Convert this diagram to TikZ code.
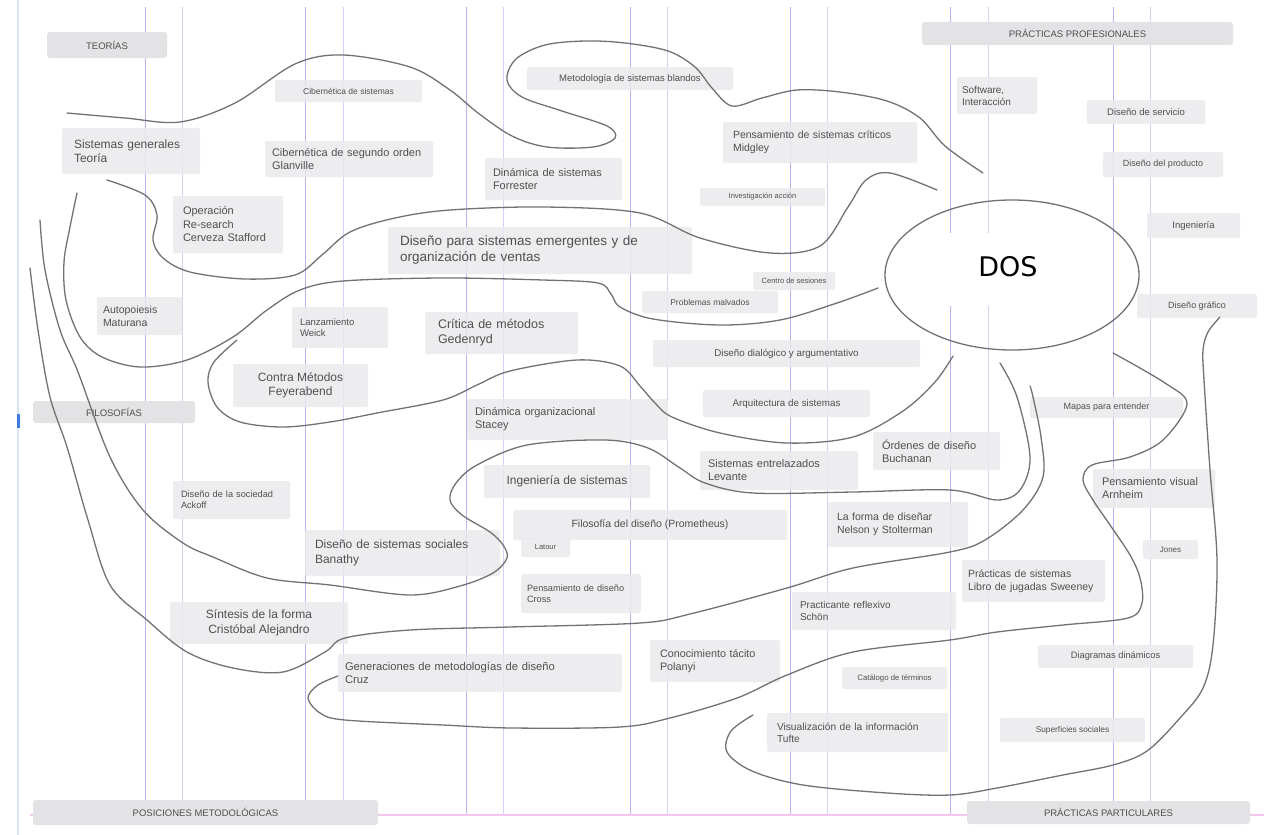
\documentclass[tikz,border=0pt]{standalone}
\usepackage{fontspec}
\setmainfont{Liberation Sans}
\newfontfamily\dosfont{DejaVu Sans}
\usetikzlibrary{shapes.geometric}

\definecolor{boxgray}{HTML}{EBEBED}
\definecolor{headgray}{HTML}{E3E3E6}
\definecolor{txtgray}{HTML}{505050}
\definecolor{curvegray}{HTML}{727272}
\definecolor{vlA}{HTML}{C2AEF4}
\definecolor{vlB}{HTML}{D6D0F7}
\definecolor{pinkline}{HTML}{F4C8EE}
\definecolor{edgeblue}{HTML}{D6E6F8}
\definecolor{markblue}{HTML}{3D7FE0}

\newcommand{\fz}[2]{\fontsize{#1}{#2}\selectfont}

\begin{document}
\begin{tikzpicture}[x=1pt, y=-1pt]
  \tikzstyle{box}=[fill=boxgray, fill opacity=0.85, text opacity=1, rounded corners=2pt, inner xsep=0pt, inner ysep=0pt, text=txtgray]
  \tikzstyle{lbox}=[box, align=left]
  \tikzstyle{cbox}=[box, align=center]
  \tikzstyle{head}=[fill=headgray, rounded corners=3pt, inner sep=0pt, text=txtgray, font=\fz{9.5}{11}]
  \tikzstyle{curve}=[draw=curvegray, line width=1.3pt, line cap=round, line join=round]
  \tikzstyle{grid}=[line width=1pt]

  \useasboundingbox (0,0) rectangle (1264,835);
  \fill[white] (0,0) rectangle (1264,835);

  % columns
  \foreach \x/\c in {145/vlA, 182/vlB, 305/vlA, 343/vlB, 466/vlA, 503/vlB, 630/vlA,
                     667/vlB, 790/vlA, 827/vlB, 950/vlA, 988/vlB, 1113/vlA, 1150/vlB}
    \draw[grid, \c] (\x,7) -- (\x,815);
  \draw[pinkline, line width=1.5pt] (30,815) -- (1264,815);
  \draw[edgeblue, line width=1.5pt] (18,0) -- (18,835);
  \fill[markblue] (16.5,414) rectangle (19.5,428);

  % headers
  \node[head, minimum width=120pt, minimum height=26pt] (teorias) at (107,45) {TEORÍAS};
  \node[head, minimum width=311pt, minimum height=23pt] (profesionales) at (1077.5,33.5) {PRÁCTICAS PROFESIONALES};
  \node[head, minimum width=162pt, minimum height=22pt] (filosofias) at (114,412) {FILOSOFÍAS};
  \node[head, minimum width=345pt, minimum height=25pt] (posiciones) at (205.5,812.5) {POSICIONES METODOLÓGICAS};
  \node[head, minimum width=283pt, minimum height=23pt] (particulares) at (1108.5,812.5) {PRÁCTICAS PARTICULARES};

  % teorias
  \node[cbox, minimum width=147pt, minimum height=22pt, font=\fz{8.5}{10}] (cib) at (348.5,91) {Cibernética de sistemas};
  \node[cbox, minimum width=206pt, minimum height=23pt, font=\fz{9.5}{11}] (msb) at (630,78.5) {Metodología de sistemas blandos};
  \node[lbox, minimum width=138pt, minimum height=46pt, text width=114pt, font=\fz{12}{14.5}] (sgt) at (131,151) {Sistemas generales\\Teoría};
  \node[lbox, minimum width=168pt, minimum height=36pt, text width=154pt, font=\fz{11}{13}] (c2o) at (349,159) {Cibernética de segundo orden\\Glanville};
  \node[lbox, minimum width=110pt, minimum height=57pt, text width=90pt, font=\fz{11}{13.5}] (opr) at (228,224.5) {Operación\\Re-search\\Cerveza Stafford};
  \node[lbox, minimum width=137pt, minimum height=42pt, text width=121pt, font=\fz{11}{13}] (dsf) at (553.5,179) {Dinámica de sistemas\\Forrester};
  \node[lbox, minimum width=194pt, minimum height=41pt, text width=174pt, font=\fz{10.5}{13}] (psc) at (820,142.5) {Pensamiento de sistemas críticos\\Midgley};
  \node[cbox, minimum width=125pt, minimum height=18pt, font=\fz{7.5}{9}] (ia) at (762.5,197) {Investigación acción};
  \node[lbox, minimum width=304pt, minimum height=47pt, text width=280pt, font=\fz{13.5}{16}] (dse) at (540,250.5) {Diseño para sistemas emergentes y de\\organización de ventas};
  \node[cbox, minimum width=82pt, minimum height=18pt, font=\fz{7.5}{9}] (cs) at (794,281) {Centro de sesiones};
  \node[cbox, minimum width=136pt, minimum height=22pt, font=\fz{8.5}{10}] (pm) at (710,302) {Problemas malvados};

  % practicas profesionales
  \node[lbox, minimum width=80pt, minimum height=37pt, text width=70pt, font=\fz{10}{12}] (sw) at (997,95.5) {Software,\\Interacción};
  \node[cbox, minimum width=118pt, minimum height=24pt, font=\fz{9.5}{11}] (dser) at (1146,112) {Diseño de servicio};
  \node[cbox, minimum width=120pt, minimum height=25pt, font=\fz{9}{11}] (dprod) at (1163,164.5) {Diseño del producto};
  \node[cbox, minimum width=93pt, minimum height=25pt, font=\fz{9.5}{11}] (ing) at (1193.5,225.5) {Ingeniería};
  \node[cbox, minimum width=120pt, minimum height=24pt, font=\fz{9}{11}] (dgraf) at (1197,306) {Diseño gráfico};

  % filosofias
  \node[lbox, minimum width=85pt, minimum height=38pt, text width=73pt, font=\fz{10.5}{12.5}] (aut) at (139.5,316) {Autopoiesis\\Maturana};
  \node[lbox, minimum width=96pt, minimum height=41pt, text width=80pt, font=\fz{9.5}{11.5}] (lan) at (340,327.5) {Lanzamiento\\Weick};
  \node[lbox, minimum width=153pt, minimum height=42pt, text width=127pt, font=\fz{12.5}{15}] (cri) at (501.5,333) {Crítica de métodos\\Gedenryd};
  \node[cbox, minimum width=135pt, minimum height=43pt, font=\fz{12}{14.5}] (cm) at (300.5,385.5) {Contra Métodos\\Feyerabend};
  \node[cbox, minimum width=267pt, minimum height=27pt, font=\fz{9.8}{11.5}] (ddia) at (786.5,353.5) {Diseño dialógico y argumentativo};
  \node[cbox, minimum width=167pt, minimum height=27pt, font=\fz{9.8}{11.5}] (arq) at (786.5,403.5) {Arquitectura de sistemas};
  \node[lbox, minimum width=201pt, minimum height=41pt, text width=185pt, font=\fz{11}{13}] (dorg) at (567.5,419.5) {Dinámica organizacional\\Stacey};
  \node[cbox, minimum width=153pt, minimum height=21pt, font=\fz{9}{11}] (mapas) at (1106.5,407.5) {Mapas para entender};
  \node[lbox, minimum width=127pt, minimum height=38pt, text width=109pt, font=\fz{11}{13}] (ord) at (936.5,451) {Órdenes de diseño\\Buchanan};
  \node[lbox, minimum width=158pt, minimum height=39pt, text width=142pt, font=\fz{11}{13}] (sent) at (779,470.5) {Sistemas entrelazados\\Levante};
  \node[cbox, minimum width=166pt, minimum height=33pt, font=\fz{12}{14}] (isis) at (567,481.5) {Ingeniería de sistemas};
  \node[lbox, minimum width=117pt, minimum height=38pt, text width=101pt, font=\fz{9.2}{11}] (dsoc) at (231.5,500) {Diseño de la sociedad\\Ackoff};
  \node[lbox, minimum width=122pt, minimum height=39pt, text width=104pt, font=\fz{11}{13}] (pv) at (1154,488.5) {Pensamiento visual\\Arnheim};
  \node[cbox, minimum width=274pt, minimum height=30pt, font=\fz{10.5}{12}] (fil) at (650,525) {Filosofía del diseño (Prometheus)};
  \node[lbox, minimum width=140pt, minimum height=45pt, text width=122pt, font=\fz{10.5}{12.5}] (fdis) at (898,524.5) {La forma de diseñar\\Nelson y Stolterman};
  \node[cbox, minimum width=49pt, minimum height=20pt, font=\fz{7.5}{9}] (lat) at (545.5,547) {Latour};
  \node[lbox, minimum width=195pt, minimum height=46pt, text width=175pt, font=\fz{12}{14.5}] (dss) at (402.5,553) {Diseño de sistemas sociales\\Banathy};
  \node[cbox, minimum width=55pt, minimum height=19pt, font=\fz{8}{9.5}] (jon) at (1170.5,549.5) {Jones};

  % posiciones y practicas particulares
  \node[lbox, minimum width=120pt, minimum height=39pt, text width=108pt, font=\fz{9.2}{11.5}] (pdis) at (581,593.5) {Pensamiento de diseño\\Cross};
  \node[lbox, minimum width=143pt, minimum height=42pt, text width=131pt, font=\fz{10.5}{12.5}] (prs) at (1033.5,581) {Prácticas de sistemas\\Libro de jugadas Sweeney};
  \node[cbox, minimum width=178pt, minimum height=42pt, font=\fz{12}{14.5}] (sint) at (259,623) {Síntesis de la forma\\Cristóbal Alejandro};
  \node[lbox, minimum width=164pt, minimum height=38pt, text width=148pt, font=\fz{10}{12}] (prr) at (874,611) {Practicante reflexivo\\Schön};
  \node[lbox, minimum width=130pt, minimum height=42pt, text width=110pt, font=\fz{10.8}{13}] (cti) at (715,661) {Conocimiento tácito\\Polanyi};
  \node[lbox, minimum width=284pt, minimum height=38pt, text width=270pt, font=\fz{11.2}{13}] (gen) at (480,673) {Generaciones de metodologías de diseño\\Cruz};
  \node[cbox, minimum width=155pt, minimum height=23pt, font=\fz{9.3}{11}] (ddin) at (1115.5,656.5) {Diagramas dinámicos};
  \node[cbox, minimum width=105pt, minimum height=22pt, font=\fz{7.8}{9}] (cat) at (894.5,678) {Catálogo de términos};
  \node[lbox, minimum width=181pt, minimum height=39pt, text width=161pt, font=\fz{10.2}{12}] (vis) at (857.5,732.5) {Visualización de la información\\Tufte};
  \node[cbox, minimum width=145pt, minimum height=24pt, font=\fz{8.3}{10}] (sup) at (1072.5,730) {Superficies sociales};

  % DOS
  \node[ellipse, curve, minimum width=254pt, minimum height=150pt] (dosring) at (1012,275) {};
  \node[fill=white, minimum width=167pt, minimum height=73pt] (dosbox) at (1018.5,269) {};
  \node[font=\dosfont\fz{27}{30}, text=black, inner sep=0pt] (dos) at (1008,267) {DOS};

  % freehand groupings
  \draw[curve] plot[smooth, tension=0.55] coordinates {(67,113) (125,118) (180,122) (235,103) (295,64) (343,55) (410,67) (450,90) (478,113) (512,136) (547,147) (593,147) (615,138) (607,126) (562,111) (522,97) (507,80) (516,59) (545,45) (585,41) (625,43) (668,51) (695,67) (712,88) (732,106) (762,98) (797,90) (840,92) (887,101) (920,118) (945,146) (983,173)};
  \draw[curve] plot[smooth, tension=0.55] coordinates {(107,180) (145,195) (157,215) (153,240) (163,258) (190,272) (245,279) (295,275) (322,255) (350,232) (395,218) (450,210) (545,207) (640,213) (700,238) (770,253) (820,246) (848,207) (866,180) (890,173) (937,190)};
  \draw[curve] plot[smooth, tension=0.55] coordinates {(77,193) (70,227) (64,262) (66,300) (80,337) (102,357) (140,367) (187,360) (233,337) (267,310) (300,290) (343,281) (443,278) (543,280) (598,283) (611,294) (620,307) (653,319) (720,325) (780,320) (837,303) (878,288)};
  \draw[curve] plot[smooth, tension=0.55] coordinates {(237,340) (214,362) (208,382) (217,407) (240,422) (283,427) (330,422) (377,413) (443,400) (477,385) (510,371) (577,360) (620,366) (640,386) (655,403) (672,417) (720,433) (787,443) (853,437) (903,411) (935,382) (953,356)};
  \draw[curve] plot[smooth, tension=0.55] coordinates {(30,268) (38,330) (50,397) (67,447) (88,520) (110,585) (147,620) (187,652) (233,668) (283,672) (325,652) (345,638) (410,630) (510,627) (640,623) (690,614) (787,588) (853,568) (950,552) (985,540) (1023,510) (1043,477) (1041,437) (1033,397) (1030,386)};
  \draw[curve] plot[smooth, tension=0.55] coordinates {(40,220) (45,270) (60,330) (78,372) (110,457) (143,510) (183,543) (213,557) (267,578) (330,585) (410,595) (460,586) (493,573) (507,558) (503,545) (490,532) (462,515) (450,500) (456,483) (477,465) (527,445) (605,440) (648,448) (680,468) (705,483) (753,493) (853,492) (950,490) (997,500) (1020,490) (1030,457) (1017,397) (1000,363)};
  \draw[curve] plot[smooth, tension=0.55] coordinates {(338,676) (318,685) (308,698) (320,713) (345,720) (443,725) (512,728) (620,727) (670,718) (737,698) (787,675) (853,652) (950,640) (997,632) (1063,625) (1128,618) (1142,603) (1140,578) (1130,555) (1110,525) (1093,500) (1083,480) (1092,465) (1130,457) (1163,440) (1187,404) (1165,383) (1113,353)};
  \draw[curve] plot[smooth, tension=0.55] coordinates {(753,715) (731,731) (727,752) (752,771) (803,785) (887,793) (950,795) (997,788) (1063,775) (1113,765) (1147,751) (1180,718) (1203,688) (1213,645) (1217,560) (1210,470) (1204,380) (1203,350) (1208,332) (1220,317)};
\end{tikzpicture}
\end{document}
